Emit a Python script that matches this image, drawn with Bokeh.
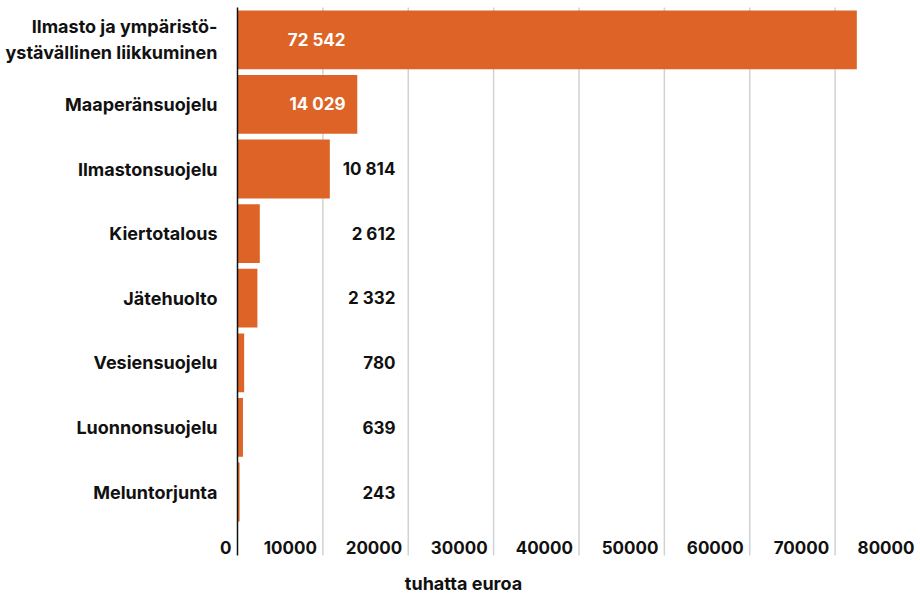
from bokeh.plotting import figure
from bokeh.models import ColumnDataSource, Range1d
from bokeh.core.properties import value
from bokeh.embed import file_html
from bokeh.resources import INLINE

# ---- data ----
categories = [
    "Ilmasto ja ympäristö-\nystävällinen liikkuminen",
    "Maaperänsuojelu",
    "Ilmastonsuojelu",
    "Kiertotalous",
    "Jätehuolto",
    "Vesiensuojelu",
    "Luonnonsuojelu",
    "Meluntorjunta",
]
values = [72542, 14029, 10814, 2612, 2332, 780, 639, 243]
x_ticks = [0, 10000, 20000, 30000, 40000, 50000, 60000, 70000, 80000]
x_tick_labels = [str(t) for t in x_ticks]
axis_title = "tuhatta euroa"

# ---- styling / layout ----
FONT = value("Inter")
BAR = "#DD6426"
TXT = "#111111"
GRID = "#d2d2d2"
INSIDE_X = 12650     # right edge of value labels drawn inside bars
OUTSIDE_X = 18500    # right edge of value labels drawn beside bars
PITCH = 64.6         # px per category row
X_START = -27760     # leaves the left margin for the category labels
X_END = 80000
Y_TOP = -0.5 - 7 / PITCH
Y_BOTTOM = -0.5 + 586 / PITCH
GRID_BOTTOM = -0.5 + 548 / PITCH
TICK_ROW = -0.5 + 539.5 / PITCH
TITLE_ROW = -0.5 + 576 / PITCH

pos = list(range(len(categories)))
fmt = [f"{v:,}".replace(",", " ") for v in values]
inside = [v > INSIDE_X for v in values]
src = ColumnDataSource(dict(
    y=pos, v=values, lab=fmt, cat=categories,
    lx=[INSIDE_X if i else OUTSIDE_X for i in inside],
    lc=["white" if i else TXT for i in inside],
))

p = figure(width=920, height=593, output_backend="svg", toolbar_location=None,
           x_range=Range1d(X_START, X_END), y_range=Range1d(Y_BOTTOM, Y_TOP),
           x_axis_location=None, y_axis_location=None,
           min_border=0)
p.outline_line_color = None
p.grid.visible = False
p.background_fill_color = "white"
p.border_fill_color = "white"

# vertical grid lines
grid_x = x_ticks[1:-1]
p.segment(x0=grid_x, x1=grid_x, y0=[-0.5] * len(grid_x), y1=[GRID_BOTTOM] * len(grid_x),
          line_color=GRID, line_width=1.5)

# bars
p.hbar(y="y", left=0, right="v", height=0.91, source=src,
       fill_color=BAR, line_color=None)

# zero line
p.segment(x0=[0], x1=[0], y0=[-0.5], y1=[GRID_BOTTOM], line_color=TXT, line_width=1.5)

# category labels
p.text(x=0, y="y", text="cat", source=src, text_color=TXT, x_offset=-20,
       text_align="right", text_baseline="middle", text_line_height=1.25,
       text_font=FONT, text_font_size="18px", text_font_style="bold")

# value labels
p.text(x="lx", y="y", text="lab", source=src, text_color="lc",
       text_align="right", text_baseline="middle",
       text_font=FONT, text_font_size="17px", text_font_style="bold")

# x tick labels
tick_src = ColumnDataSource(dict(x=x_ticks, y=[TICK_ROW] * len(x_ticks), t=x_tick_labels))
p.text(x="x", y="y", text="t", source=tick_src, text_color=TXT,
       text_align="right", text_baseline="middle", x_offset=-6,
       text_font=FONT, text_font_size="17px", text_font_style="bold")

# axis title
p.text(x=[0], y=[TITLE_ROW], text=[axis_title], text_color=TXT, x_offset=226,
       text_align="center", text_baseline="middle",
       text_font=FONT, text_font_size="18px", text_font_style="bold")

open("out.html", "w").write(file_html(p, INLINE))
